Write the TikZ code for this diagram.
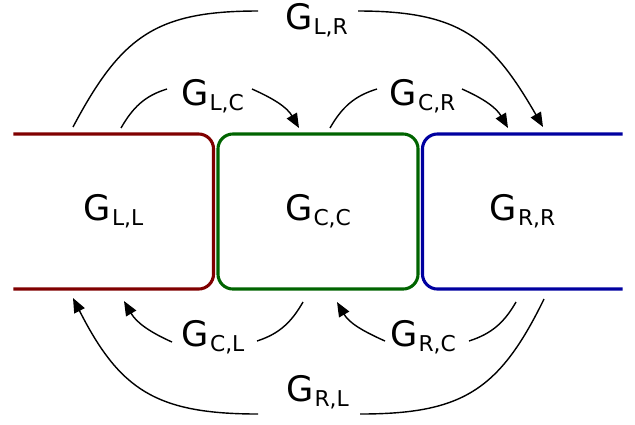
\documentclass[tikz,border=0pt]{standalone}
\usepackage{fontspec}
\setmainfont{DejaVu Sans}
\usetikzlibrary{arrows.meta}

\definecolor{lred}{RGB}{128,0,0}
\definecolor{cgreen}{RGB}{0,100,0}
\definecolor{rblue}{RGB}{0,0,160}
\newcommand{\Gind}[1]{G\kern0.8pt\raisebox{-3.6pt}{\fontsize{15.5}{18}\selectfont #1}}

\tikzset{
  box/.style={minimum width=5cm, minimum height=3.875cm, inner sep=0pt, outer sep=0pt,
    font=\fontsize{25}{30}\selectfont},
  lbl/.style={inner sep=0pt, font=\fontsize{25}{30}\selectfont},
  boxline/.style={line width=2.2pt, rounded corners=0.375cm},
  link/.style={line width=1pt},
  arrowline/.style={link, -{Triangle[length=0.36cm, width=0.29cm]}},
}

\begin{document}
\begin{tikzpicture}[x=0.025cm, y=-0.025cm]
  \useasboundingbox (0,0) rectangle (635,424);
  % blocks
  \node[box] (LL) at (113.5,211.5) {\Gind{L,L}};
  \node[box, boxline, draw=cgreen] (CC) at (318,211.5) {\Gind{C,C}};
  \node[box] (RR) at (522.5,211.5) {\Gind{R,R}};
  \draw[boxline, lred] (LL.north west) -- (LL.north east) -- (LL.south east) -- (LL.south west);
  \draw[boxline, rblue] (RR.north east) -- (RR.north west) -- (RR.south west) -- (RR.south east);
  % couplings
  \node[lbl] (GLR) at (316.5,20) {\Gind{L,R}};
  \node[lbl] (GLC) at (212.5,96) {\Gind{L,C}};
  \node[lbl] (GCR) at (422.5,96) {\Gind{C,R}};
  \node[lbl] (GCL) at (213,337) {\Gind{C,L}};
  \node[lbl] (GRC) at (423,337) {\Gind{R,C}};
  \node[lbl] (GRL) at (317.5,392) {\Gind{R,L}};
  \draw[link] ([shift={(-40.5,-7)}]LL.north) to[out=62,in=180,looseness=1.2] ([shift={(-58.5,-9)}]GLR.center);
  \draw[arrowline] ([shift={(41.5,-9)}]GLR.center) to[out=0,in=120,looseness=1.2] ([shift={(20.5,-7)}]RR.north);
  \draw[link] ([shift={(7.5,-6)}]LL.north) to[out=60,in=197] ([shift={(-45.5,-7)}]GLC.center);
  \draw[arrowline] ([shift={(39.5,-7)}]GLC.center) to[out=-24,in=120] ([shift={(-19,-6)}]CC.north);
  \draw[link] ([shift={(12,-6)}]CC.north) to[out=60,in=197] ([shift={(-45.5,-7)}]GCR.center);
  \draw[arrowline] ([shift={(39.5,-7)}]GCR.center) to[out=-24,in=120] ([shift={(-14.5,-6)}]RR.north);
  \draw[link] ([shift={(21.5,10)}]RR.south) to[out=244,in=0,looseness=1.2] ([shift={(42.5,22)}]GRL.center);
  \draw[arrowline] ([shift={(-59.5,22)}]GRL.center) to[out=180,in=-63,looseness=1.2] ([shift={(-40.5,9)}]LL.south);
  \draw[link] ([shift={(-15,13)}]CC.south) to[out=240,in=18] ([shift={(44,4)}]GCL.center);
  \draw[arrowline] ([shift={(-41,5)}]GCL.center) to[out=156,in=-60] ([shift={(10.5,12)}]LL.south);
  \draw[link] ([shift={(-6.5,13)}]RR.south) to[out=240,in=18] ([shift={(46,4)}]GRC.center);
  \draw[arrowline] ([shift={(-38,4)}]GRC.center) to[out=156,in=-60] ([shift={(19,13)}]CC.south);
\end{tikzpicture}
\end{document}
